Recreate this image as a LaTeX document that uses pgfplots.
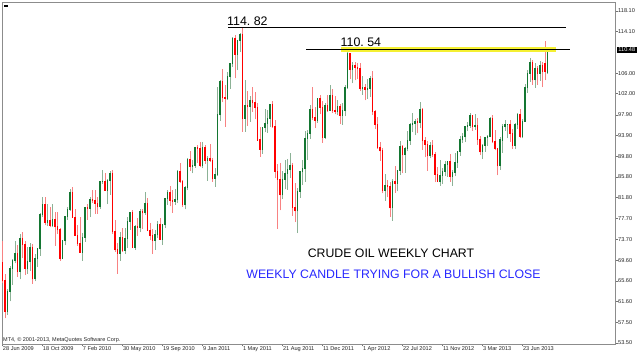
\documentclass[border=0pt]{standalone}
\usepackage{pgfplots}
\pgfplotsset{compat=1.18}
\usepackage{pgfplotstable}
\usepackage{fontspec}
\setmainfont{Liberation Sans}
\definecolor{bull}{RGB}{20,118,50}
\definecolor{bear}{RGB}{255,0,0}
\definecolor{wbull}{RGB}{140,178,150}
\definecolor{wbear}{RGB}{248,130,130}
\definecolor{hl}{RGB}{245,240,50}
\definecolor{bluetxt}{RGB}{40,40,255}
\pgfplotstableread{
i o h l c
0 69.2 73.4 65.2 65.6
1 65.6 66.9 58.3 59.6
2 59.6 64.0 59.0 63.6
3 63.6 68.5 61.6 68.0
4 68.0 69.9 64.8 69.5
5 69.5 73.4 69.0 70.9
6 70.9 72.5 66.4 67.5
7 67.5 74.7 65.9 73.9
8 73.9 75.0 70.0 72.7
9 72.7 73.4 66.7 68.0
10 68.0 72.1 67.0 69.3
11 69.3 73.0 67.5 72.0
12 72.0 72.8 65.0 66.0
13 66.0 70.8 65.5 70.0
14 70.0 72.0 68.3 71.8
15 71.8 78.7 70.5 78.5
16 78.5 82.0 78.0 80.5
17 80.5 82.0 76.4 77.0
18 77.0 80.5 76.3 77.4
19 77.4 80.0 76.0 76.4
20 76.4 80.5 76.0 77.5
21 77.5 79.0 72.4 76.1
22 76.1 79.0 74.8 75.5
23 75.5 75.9 69.5 69.9
24 69.9 73.5 69.8 73.4
25 73.4 78.2 72.5 78.1
26 78.1 80.0 77.5 79.4
27 79.4 83.5 79.2 82.8
28 82.8 83.9 78.0 78.0
29 78.0 79.5 74.3 74.5
30 74.5 76.4 72.4 72.9
31 72.9 78.0 71.2 71.2
32 71.2 74.9 69.5 74.1
33 74.1 80.0 73.2 79.8
34 79.8 80.5 77.5 79.7
35 79.7 82.0 78.0 81.5
36 81.5 83.2 80.7 81.2
37 81.2 83.3 78.6 80.7
38 80.7 82.0 78.6 80.0
39 80.0 85.0 79.6 84.9
40 84.9 87.1 84.5 84.9
41 84.9 86.5 83.2 83.2
42 83.2 85.5 80.5 85.1
43 85.1 87.0 82.3 86.4
44 86.4 87.2 74.7 75.1
45 75.1 77.4 71.3 71.6
46 71.6 73.0 67.0 71.0
47 71.0 75.0 69.5 74.0
48 74.0 75.9 71.3 71.5
49 71.5 75.8 70.8 73.8
50 73.8 78.0 72.0 77.2
51 77.2 79.0 75.5 78.9
52 78.9 79.4 71.9 72.1
53 72.1 76.4 71.6 76.1
54 76.1 77.8 74.4 76.0
55 76.0 79.6 75.0 79.0
56 79.0 79.5 75.7 78.8
57 78.8 82.9 78.5 80.7
58 80.7 81.7 75.2 75.4
59 75.4 76.8 73.5 74.4
60 74.4 75.6 70.8 73.4
61 73.4 75.5 71.6 74.6
62 74.6 77.2 73.9 76.5
63 76.5 77.9 73.5 73.7
64 73.7 76.6 72.6 76.5
65 76.5 81.7 75.8 81.6
66 81.6 83.2 80.4 82.7
67 82.7 84.0 80.1 81.3
68 81.3 83.2 78.8 81.1
69 81.1 83.5 80.4 81.4
70 81.4 87.2 80.7 86.9
71 86.9 88.6 84.6 84.9
72 84.9 85.2 80.0 80.4
73 80.4 84.0 79.5 83.8
74 83.8 89.5 83.2 89.2
75 89.2 90.8 87.0 87.8
76 87.8 89.1 86.5 88.0
77 88.0 91.5 87.6 91.5
78 91.5 92.1 88.5 91.4
79 91.4 92.6 87.7 88.0
80 88.0 92.6 87.5 91.5
81 91.5 92.0 88.3 89.1
82 89.1 89.8 85.1 89.3
83 89.3 92.2 88.7 89.0
84 89.0 89.5 84.9 85.6
85 85.6 87.5 83.9 86.2
86 86.2 103.4 86.0 97.9
87 97.9 104.6 96.7 104.4
88 104.4 106.9 100.3 101.2
89 101.2 103.7 95.6 101.1
90 101.1 106.2 100.8 105.4
91 105.4 108.0 103.0 107.9
92 107.9 113.0 107.2 112.8
93 112.8 113.5 105.0 109.7
94 109.7 112.5 106.6 112.3
95 112.3 113.9 110.1 113.6
96 113.6 114.82 94.6 97.2
97 97.2 104.6 94.6 99.7
98 99.7 102.6 95.8 99.5
99 99.5 101.5 96.5 100.6
100 100.6 103.4 98.5 100.2
101 100.2 102.4 97.0 99.3
102 99.3 100.2 92.8 93.0
103 93.0 95.6 89.7 91.2
104 91.2 95.4 90.3 95.4
105 95.4 99.0 94.5 96.2
106 96.2 98.8 94.4 97.2
107 97.2 100.0 95.5 99.9
108 99.9 100.6 95.3 95.7
109 95.7 96.8 85.6 86.9
110 86.9 88.3 75.7 85.4
111 85.4 88.5 79.3 82.3
112 82.3 87.0 81.6 85.4
113 85.4 89.2 83.4 86.5
114 86.5 89.3 83.3 87.2
115 87.2 90.5 85.6 88.0
116 88.0 88.5 78.3 79.9
117 79.9 84.6 77.0 79.2
118 79.2 83.6 74.9 83.0
119 83.0 87.0 81.8 86.8
120 86.8 89.2 84.2 87.4
121 87.4 94.7 84.9 93.3
122 93.3 95.0 89.2 94.3
123 94.3 99.8 93.2 99.0
124 99.0 103.4 96.8 97.4
125 97.4 99.5 95.3 96.8
126 96.8 101.2 96.4 101.0
127 101.0 101.8 98.0 99.4
128 99.4 100.6 92.5 93.5
129 93.5 100.2 93.2 99.7
130 99.7 101.8 98.5 98.8
131 98.8 103.7 98.8 101.6
132 101.6 103.0 98.3 98.7
133 98.7 101.5 98.0 98.5
134 98.5 100.8 97.8 99.6
135 99.6 100.0 96.1 97.8
136 97.8 100.2 96.0 98.7
137 98.7 103.7 97.6 103.2
138 103.2 110.54 103.0 109.8
139 109.8 110.0 104.8 106.7
140 106.7 108.2 104.0 107.4
141 107.4 108.1 104.6 107.1
142 107.1 108.0 104.8 106.9
143 106.9 108.0 102.5 103.0
144 103.0 105.5 101.8 103.3
145 103.3 103.9 100.7 102.8
146 102.8 104.8 101.0 103.1
147 103.1 105.4 101.4 104.9
148 104.9 106.4 97.9 98.5
149 98.5 98.8 95.2 96.1
150 96.1 97.4 91.3 91.5
151 91.5 92.6 89.0 90.9
152 90.9 91.5 82.6 83.2
153 83.2 86.4 81.2 84.1
154 84.1 85.2 81.9 84.0
155 84.0 84.9 78.1 79.8
156 79.8 85.5 77.3 85.0
157 85.0 88.0 82.7 84.5
158 84.5 87.2 83.0 87.1
159 87.1 92.9 86.2 91.8
160 91.8 92.0 86.5 90.1
161 90.1 91.6 86.6 91.4
162 91.4 94.7 90.8 92.9
163 92.9 96.4 92.1 96.0
164 96.0 98.3 94.5 96.2
165 96.2 97.0 93.9 96.5
166 96.5 97.2 94.3 96.4
167 96.4 100.4 95.3 99.0
168 99.0 99.3 91.1 92.9
169 92.9 93.6 89.6 92.2
170 92.2 92.9 87.0 89.9
171 89.9 92.6 89.4 91.9
172 91.9 93.0 89.6 90.1
173 90.1 90.7 84.8 86.3
174 86.3 87.8 84.9 84.9
175 84.9 89.2 84.1 86.1
176 86.1 87.6 84.4 86.9
177 86.9 89.0 85.9 88.3
178 88.3 89.0 85.8 88.9
179 88.9 90.3 84.9 85.9
180 85.9 87.2 84.1 86.7
181 86.7 90.5 85.9 88.7
182 88.7 90.9 87.6 90.8
183 90.8 93.8 89.9 93.1
184 93.1 94.3 92.4 93.6
185 93.6 95.7 92.6 95.6
186 95.6 96.5 94.7 95.9
187 95.9 98.2 95.4 97.8
188 97.8 97.9 94.7 95.7
189 95.7 98.0 95.0 95.9
190 95.9 97.2 92.1 93.1
191 93.1 93.7 90.1 90.7
192 90.7 92.3 89.3 92.0
193 92.0 93.5 90.7 93.5
194 93.5 94.0 91.8 93.7
195 93.7 97.4 93.5 97.2
196 97.2 97.8 92.4 92.7
197 92.7 94.9 91.0 91.3
198 91.3 91.5 86.1 88.0
199 88.0 93.6 87.2 93.0
200 93.0 96.2 90.5 95.6
201 95.6 96.8 94.8 96.0
202 96.0 96.2 93.3 96.1
203 96.1 96.8 92.7 94.2
204 94.2 95.2 91.2 92.0
205 92.0 96.4 91.2 96.0
206 96.0 98.3 95.2 97.9
207 97.9 99.0 93.3 93.7
208 93.7 97.1 93.3 96.6
209 96.6 103.9 96.6 103.2
210 103.2 106.6 102.2 106.0
211 106.0 108.9 104.3 108.1
212 108.1 108.6 103.7 104.7
213 104.7 108.0 103.2 106.9
214 106.9 107.3 103.7 106.0
215 106.0 108.4 104.5 107.5
216 107.5 108.1 103.3 106.4
217 107.9 112.2 104.6 106.3
218 106.1 110.6 105.8 110.48
}\candles
\begin{document}
\begin{tikzpicture}
\useasboundingbox (0,0) rectangle (640pt,356pt);
\fill[white] (0,0) rectangle (640pt,356pt);
\begin{axis}[
  at={(2pt,12pt)}, anchor=south west, scale only axis,
  width=613pt, height=342pt,
  xmin=-0.2, xmax=245, ymin=53.305, ymax=119.85,
  axis line style={draw=black!45, line width=0.8pt},
  tick style={draw=black!55, line width=0.6pt},
  tick align=outside, major tick length=2.5pt,
  xtick pos=left, ytick pos=right, yticklabel pos=right,
  xtick={0,16,32,48,64,80,96,112,128,144,160,176,192,208},
  xticklabels={28 Jun 2009,18 Oct 2009,7 Feb 2010,30 May 2010,19 Sep 2010,9 Jan 2011,1 May 2011,21 Aug 2011,11 Dec 2011,1 Apr 2012,22 Jul 2012,11 Nov 2012,3 Mar 2013,23 Jun 2013},
  xticklabel style={anchor=north west, inner sep=0pt, xshift=0.3pt, font=\fontsize{5.6}{6}\selectfont, text=black!85},
  ytick={53.5,57.5,61.6,65.6,69.6,73.7,77.7,81.8,85.8,89.8,93.9,97.9,102,106,114.1,118.1},
  yticklabels={53.50,57.50,61.60,65.60,69.60,73.70,77.70,81.80,85.80,89.80,93.90,97.90,102.00,106.00,114.10,118.10},
  yticklabel style={anchor=west, inner sep=0pt, xshift=0.5pt, font=\fontsize{5.6}{6}\selectfont, text=black!85},
]
% wicks
\addplot[draw=none, mark=none, forget plot,
  restrict expr to domain={\thisrow{c}-\thisrow{o}}{0:100},
  error bars/.cd, y dir=plus, y explicit, error mark=none,
  error bar style={line width=0.6pt, draw=wbull, solid}]
  table[x=i, y expr={\thisrow{l}}, y error plus expr={\thisrow{h}-\thisrow{l}}] {\candles};
\addplot[draw=none, mark=none, forget plot,
  restrict expr to domain={\thisrow{o}-\thisrow{c}}{0.0001:100},
  error bars/.cd, y dir=plus, y explicit, error mark=none,
  error bar style={line width=0.6pt, draw=wbear, solid}]
  table[x=i, y expr={\thisrow{l}}, y error plus expr={\thisrow{h}-\thisrow{l}}] {\candles};
% bodies
\addplot[draw=none, mark=none, forget plot,
  restrict expr to domain={\thisrow{c}-\thisrow{o}}{0:100},
  error bars/.cd, y dir=plus, y explicit, error mark=none,
  error bar style={line width=1.7pt, draw=bull, solid}]
  table[x=i, y expr={min(\thisrow{o},\thisrow{c})-0.1}, y error plus expr={abs(\thisrow{c}-\thisrow{o})+0.2}] {\candles};
\addplot[draw=none, mark=none, forget plot,
  restrict expr to domain={\thisrow{o}-\thisrow{c}}{0.0001:100},
  error bars/.cd, y dir=plus, y explicit, error mark=none,
  error bar style={line width=1.7pt, draw=bear, solid}]
  table[x=i, y expr={min(\thisrow{o},\thisrow{c})-0.1}, y error plus expr={abs(\thisrow{c}-\thisrow{o})+0.2}] {\candles};
% resistance lines
\addplot[hl, line width=5pt, forget plot] coordinates {(135.4,110.54) (221.4,110.54)};
\addplot[black, line width=0.9pt, forget plot] coordinates {(90.2,114.82) (225.4,114.82)};
\addplot[black, line width=0.9pt, forget plot] coordinates {(121.4,110.54) (227,110.54)};
\end{axis}
% annotations
\node[anchor=south west, inner sep=0pt, font=\fontsize{12.4}{14}\selectfont] at (227pt,330pt) {114.\ 82};
\node[anchor=south west, inner sep=0pt, font=\fontsize{12.4}{14}\selectfont] at (340.5pt,309.3pt) {110.\ 54};
\node[inner sep=0pt, font=\fontsize{12.3}{14}\selectfont] at (391pt,103pt) {CRUDE OIL WEEKLY CHART};
\node[inner sep=0pt, text=bluetxt, font=\fontsize{12.3}{14}\selectfont] at (393.5pt,82pt) {WEEKLY CANDLE TRYING FOR A BULLISH CLOSE};
\node[anchor=west, inner sep=0pt, font=\fontsize{5.5}{6}\selectfont, text=black!85] at (3pt,16pt) {MT4, \textcopyright{} 2001-2013, MetaQuotes Software Corp.};
\fill[black] (616.5pt,303.3pt) rectangle (637pt,308.7pt);
\node[inner sep=0pt, text=white, font=\fontsize{5.6}{6}\selectfont] at (626.8pt,306pt) {110.48};
\fill[black] (4pt,349pt) rectangle (7.5pt,350.8pt);
\end{tikzpicture}
\end{document}
